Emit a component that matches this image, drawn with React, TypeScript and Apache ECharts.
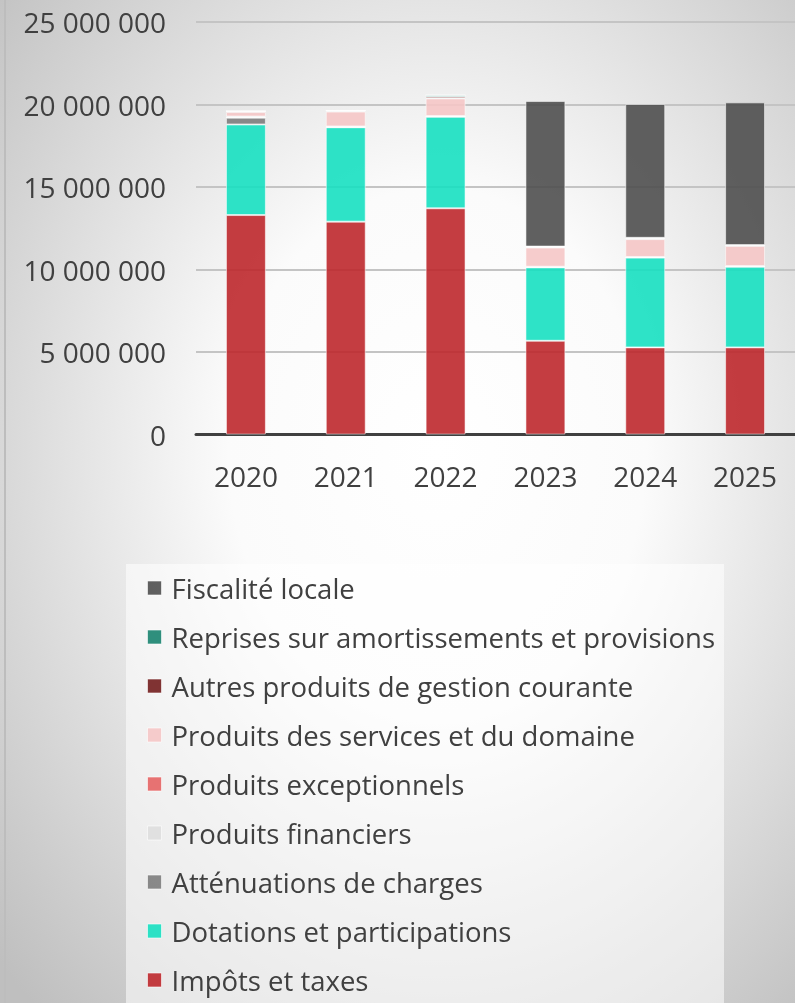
import React, { useEffect, useRef } from "react";
import * as echarts from "echarts";

const years = ["2020", "2021", "2022", "2023", "2024", "2025"];

const impotsTaxes = [13300000, 12900000, 13710000, 5680000, 5280000, 5280000];
const dotations = [5490000, 5720000, 5550000, 4450000, 5440000, 4890000];
const attenuations = [410000, 0, 0, 0, 0, 0];
const produitsFinanciers = [20000, 20000, 20000, 20000, 20000, 20000];
const produitsExceptionnels = [50000, 30000, 20000, 20000, 20000, 20000];
const produitsServices = [270000, 900000, 1070000, 1160000, 1080000, 1220000];
const autresProduits = [60000, 60000, 100000, 60000, 60000, 50000];
const reprises = [0, 0, 100000, 0, 20000, 0];
const fiscaliteLocale = [0, 0, 0, 8820000, 8110000, 8650000];

const seriesDefs = [
  { name: "Impôts et taxes", data: impotsTaxes, color: "rgba(190,40,44,0.9)" },
  { name: "Dotations et participations", data: dotations, color: "rgba(23,224,193,0.9)" },
  { name: "Atténuations de charges", data: attenuations, color: "rgba(125,125,125,0.9)" },
  { name: "Produits financiers", data: produitsFinanciers, color: "rgba(222,222,222,0.9)" },
  { name: "Produits exceptionnels", data: produitsExceptionnels, color: "rgba(230,100,100,0.9)" },
  { name: "Produits des services et du domaine", data: produitsServices, color: "rgba(245,198,198,0.9)" },
  { name: "Autres produits de gestion courante", data: autresProduits, color: "rgba(115,30,30,0.9)" },
  { name: "Reprises sur amortissements et provisions", data: reprises, color: "rgba(25,132,112,0.9)" },
  { name: "Fiscalité locale", data: fiscaliteLocale, color: "rgba(79,79,79,0.9)" },
];

const FONT = "Open Sans";

export default function App() {
  const ref = useRef<HTMLDivElement>(null);
  useEffect(() => {
    if (!ref.current) return;
    const chart = echarts.init(ref.current, null, { renderer: "svg" });
    chart.setOption({
      animation: false,
      backgroundColor: new echarts.graphic.RadialGradient(0.55, 0.45, 0.75, [
        { offset: 0, color: "#ffffff" },
        { offset: 0.35, color: "#fbfbfb" },
        { offset: 1, color: "#bfbfbf" },
      ]),
      graphic: [
        {
          type: "line",
          shape: { x1: 5, y1: 0, x2: 5, y2: 1003 },
          style: { stroke: "#bdbdbd", lineWidth: 2 },
          z: 1,
        },
        {
          type: "rect",
          shape: { x: 126, y: 564, width: 598, height: 445 },
          style: { fill: "rgba(255,255,255,0.55)" },
          z: 1,
        },
      ],
      grid: { left: 196, top: 22, width: 613, height: 412.5, containLabel: false },
      legend: {
        orient: "vertical",
        left: 147,
        top: 573,
        padding: 0,
        itemWidth: 14,
        itemHeight: 14,
        itemGap: 19,
        icon: "rect",
        data: seriesDefs.map((s) => s.name).reverse(),
        textStyle: {
          fontFamily: FONT,
          fontSize: 27.5,
          lineHeight: 30,
          color: "#404040",
          padding: [0, 0, 0, 5],
        },
        itemStyle: { borderColor: "rgba(255,255,255,0.6)", borderWidth: 1 },
      },
      xAxis: {
        type: "category",
        data: years,
        axisLine: { show: true, lineStyle: { color: "#404040", width: 3 } },
        axisTick: { show: false },
        axisLabel: {
          fontFamily: FONT,
          fontSize: 28,
          color: "#404040",
          margin: 27,
        },
      },
      yAxis: {
        type: "value",
        min: 0,
        max: 25000000,
        interval: 5000000,
        axisLine: { show: false },
        axisTick: { show: false },
        splitLine: { lineStyle: { color: "#c4c4c4", width: 2 } },
        axisLabel: {
          fontFamily: FONT,
          fontSize: 28,
          color: "#404040",
          margin: 30,
          formatter: (v: number) => String(Math.round(v)).replace(/\B(?=(\d{3})+(?!\d))/g, " "),
        },
      },
      series: seriesDefs.map((s) => ({
        name: s.name,
        type: "bar",
        stack: "total",
        barWidth: "40%",
        data: s.data,
        itemStyle: {
          color: s.color,
          borderColor: "rgba(255,255,255,0.55)",
          borderWidth: 1,
        },
      })),
    });
    return () => chart.dispose();
  }, []);
  return (
    <div
      ref={ref}
      style={{ position: "fixed", left: 0, top: 0, width: 795, height: 1003 }}
    />
  );
}
